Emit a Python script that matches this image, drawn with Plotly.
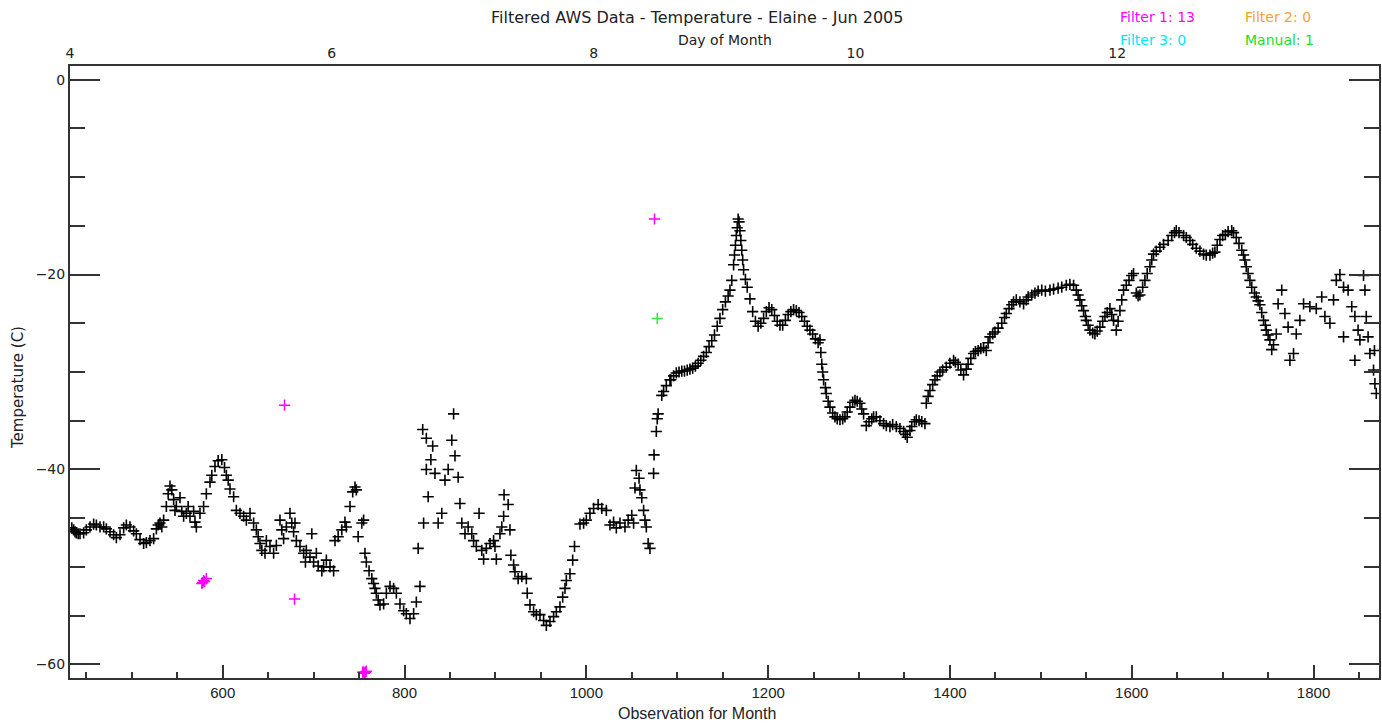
import plotly.graph_objects as go

# Observation index (10-min obs in month) and temperature (C)
obs_a = [434,436,437.5,439,441,443,447,450,454,458,461,465,469,472,476,480,483,487,491,494,498,502,505,509,513,516,520,524,527,529,531,533,535,538,540,542,544,546,547.5,549,553,555,557,560,562,564,568,569.5,571,575,579,582,586,588,591.5,595,599,602,604,606,608,612,615,619,623,626,630,634,637,639,641,643,646.5,648,652,656,659,663,665,667,670,674,676,678,679.5,681,685,689,691,692,696,698,700,703,705,709,711,714,718,722,723.5,727,731,734.5,736,740,743,745.5,747,749,753,755,756.5,758,761,764,766,767.5,769,771,773,777,780,784,788,791,795,799,802,806,810,813,815,817,821,820,824,824,826,829,831,833.5,837,841,844.5,848,852,854,855.5,859]
temp_a = [-46.0,-46.2,-46.4,-46.5,-46.6,-46.6,-46.5,-46.2,-45.9,-45.6,-45.7,-45.9,-45.9,-46.1,-46.4,-46.7,-47.0,-46.7,-46.0,-45.7,-45.9,-46.3,-46.6,-47.2,-47.6,-47.5,-47.3,-47.1,-46.1,-45.7,-45.5,-45.9,-45.2,-43.8,-42.5,-41.7,-42.1,-43.1,-44.2,-43.8,-42.9,-44.3,-44.8,-44.5,-43.8,-44.8,-44.3,-45.4,-45.9,-44.5,-43.8,-42.5,-41.3,-40.6,-39.7,-39.1,-39.0,-39.8,-40.6,-41.1,-42.0,-42.8,-44.2,-44.5,-44.8,-45.2,-44.5,-45.5,-46.2,-46.9,-47.6,-48.3,-48.6,-47.3,-47.9,-48.6,-47.8,-45.2,-46.2,-47.1,-45.9,-44.5,-45.5,-46.4,-45.5,-47.3,-47.9,-48.6,-49.5,-48.3,-49.0,-46.6,-49.5,-48.6,-49.9,-50.4,-50.0,-49.3,-50.0,-50.4,-47.3,-46.9,-46.2,-45.4,-45.9,-43.8,-42.3,-41.8,-42.1,-46.9,-45.5,-45.2,-48.6,-49.5,-50.4,-51.2,-51.7,-52.2,-52.7,-53.4,-53.9,-53.8,-52.7,-52.0,-52.2,-52.7,-53.8,-54.5,-54.8,-55.3,-54.8,-53.6,-48.1,-52.0,-45.5,-35.9,-36.8,-40.0,-42.8,-39.0,-37.6,-40.4,-45.5,-44.5,-41.1,-40.0,-37.0,-34.3,-38.6,-40.8]

obs_b = [861,863,866.5,870,874,876,879,882,885,887,890,894,898,899.5,901,905,907,909,909.5,914,916,917,920,921.5,925,929,934,935,938,942,945,949,953,956,960,964,967,971,974,976.5,978,982,985,987,993,997,1000,1004,1008,1013,1017,1022,1026,1030,1033,1037,1042.5,1046,1050,1052,1053.5,1055,1058,1059,1061,1063,1064.5,1066,1068,1070,1074,1074.5,1077,1078,1079,1083,1085,1088,1092]
temp_b = [-43.5,-45.5,-46.6,-45.9,-46.6,-47.3,-47.9,-44.5,-48.3,-49.2,-48.1,-47.6,-47.3,-47.9,-49.2,-46.6,-45.9,-44.8,-42.6,-43.6,-46.2,-48.8,-49.8,-50.5,-51.2,-51.0,-51.2,-52.7,-53.9,-54.6,-54.9,-54.9,-55.5,-56.0,-55.6,-55.1,-54.6,-54.1,-53.1,-52.2,-51.4,-50.7,-49.3,-47.9,-45.6,-45.5,-45.2,-44.5,-44.0,-43.6,-44.0,-44.2,-45.7,-45.4,-46.0,-45.5,-45.9,-45.2,-44.7,-45.5,-41.9,-40.1,-40.9,-42.1,-42.9,-44.2,-45.2,-45.9,-47.6,-48.1,-40.4,-38.5,-36.1,-34.8,-34.3,-32.4,-32.0,-31.4,-30.8]

obs_c = [1093,1096,1099,1102,1105,1108,1111,1114,1117,1120,1123,1126,1129,1132,1135,1138,1141,1144,1147,1150,1153,1156,1158,1160,1162,1163,1164,1165,1166,1167,1168,1169,1170,1171,1172,1173,1175,1177,1180,1183,1186,1189,1192,1195,1198,1201,1204,1207,1210,1213,1216,1219,1222,1225,1228,1231,1234,1237,1240,1243,1246,1249,1252,1255]
temp_c = [-30.8,-30.4,-30.1,-30.0,-29.9,-29.9,-29.8,-29.7,-29.6,-29.4,-29.1,-28.8,-28.4,-28.0,-27.4,-26.8,-26.2,-25.3,-24.5,-23.6,-22.8,-22.2,-21.6,-20.6,-19.0,-18.0,-17.0,-16.0,-15.2,-14.3,-14.6,-15.5,-16.5,-17.5,-18.5,-19.5,-20.5,-21.3,-22.5,-23.8,-24.8,-25.3,-25.0,-24.5,-23.8,-23.4,-23.6,-24.2,-24.8,-25.2,-25.2,-24.7,-24.1,-23.8,-23.6,-23.7,-23.9,-24.3,-24.8,-25.3,-25.7,-26.1,-26.6,-27.0]

obs_d = [1257,1258,1259,1260,1261,1263,1264,1266,1268,1271,1273.5,1276,1279,1282,1284.5,1287,1290,1293,1295.5,1298,1301,1303,1305,1308,1311,1314,1316,1319,1323,1327,1330,1334,1337,1341,1345,1349,1351,1353,1356,1358,1361,1363,1366,1369,1372.5,1374,1376,1378,1381,1383.5,1386,1389,1392,1396,1400,1404,1406,1409,1412,1415,1418,1420,1423,1426,1428,1431,1434,1437,1440,1442,1444,1447,1449.5,1453,1457,1460,1462,1465,1468,1470,1473,1477,1481,1484,1486,1490,1493.5,1497,1501,1505,1510,1514,1519,1523,1528,1532,1536,1539,1541,1543,1545,1547,1549,1550,1552,1554,1557,1559.5,1562,1565,1568,1570.5,1573,1576,1578,1580,1583,1585,1587,1589,1591,1594,1597,1600,1602,1605,1607,1609,1612,1614.5,1617,1620,1622,1624,1627,1631,1635,1640,1644,1647,1649,1652,1657,1660,1664,1667,1671,1675,1679,1682,1686,1689,1691.5,1694,1697,1700]
temp_d = [-26.7,-28.0,-29.2,-30.0,-30.8,-31.6,-32.2,-33.0,-33.6,-34.2,-34.6,-34.8,-34.9,-34.8,-34.6,-34.1,-33.6,-33.1,-32.9,-33.0,-33.2,-33.8,-34.3,-35.5,-35.1,-34.8,-34.6,-34.6,-35.0,-35.3,-35.5,-35.6,-35.4,-35.6,-35.8,-36.1,-36.4,-36.7,-36.0,-35.6,-35.1,-34.9,-35.0,-35.1,-35.3,-33.2,-32.5,-31.9,-31.3,-30.8,-30.4,-30.0,-29.8,-29.5,-29.1,-28.8,-29.0,-29.2,-29.8,-30.3,-29.7,-29.2,-28.6,-28.1,-27.9,-27.8,-27.6,-27.5,-27.8,-27.0,-26.4,-26.1,-25.9,-25.5,-25.0,-24.4,-24.0,-23.5,-23.1,-22.8,-22.6,-22.8,-23.0,-22.6,-22.3,-22.1,-21.9,-21.7,-21.6,-21.7,-21.6,-21.5,-21.4,-21.3,-21.1,-21.0,-21.1,-21.6,-22.1,-22.6,-23.2,-23.7,-24.3,-24.7,-25.2,-25.7,-26.0,-26.1,-25.8,-25.4,-24.8,-24.3,-23.9,-23.5,-24.1,-24.7,-25.7,-24.8,-23.7,-22.6,-21.6,-21.1,-20.6,-20.1,-19.9,-21.9,-22.2,-22.1,-21.3,-20.6,-19.9,-19.2,-18.5,-17.9,-17.6,-17.2,-16.9,-16.5,-16.0,-15.7,-15.5,-15.7,-16.0,-16.2,-16.5,-16.9,-17.3,-17.6,-17.9,-18.0,-18.0,-17.8,-17.7,-17.0,-16.4,-16.0]

obs_e = [1703,1706,1710,1712,1715,1718,1721,1723,1724.5,1726,1728,1730,1732,1735,1737,1739,1741,1743,1745,1747,1748,1750,1752,1754,1756,1759,1761,1765,1768.5,1772,1774,1778,1781,1785,1789,1796,1803,1809,1812.5,1818,1822,1825,1829,1833,1833,1838,1842,1845.5,1845.5,1849,1851,1855,1856.5,1858,1860,1862,1866,1867,1867.5,1869]
temp_e = [-15.9,-15.6,-15.5,-15.7,-16.2,-16.8,-17.5,-18.0,-18.5,-19.2,-19.9,-20.6,-21.3,-21.9,-22.3,-22.7,-23.1,-23.9,-24.7,-25.2,-25.7,-26.2,-26.7,-27.7,-27.2,-26.1,-23.0,-21.6,-24.0,-25.4,-28.8,-28.1,-26.1,-24.7,-23.0,-23.3,-23.5,-22.3,-24.3,-25.0,-22.6,-20.6,-20.0,-21.3,-26.4,-21.6,-23.3,-24.3,-28.8,-25.7,-26.7,-20.1,-21.6,-24.3,-26.4,-28.1,-29.8,-27.8,-31.2,-32.2]

filt1_obs = [577, 578, 579, 580, 582, 668, 679, 754, 755, 756, 757, 758, 1075]
filt1_temp = [-51.7, -51.6, -51.4, -51.5, -51.2, -33.4, -53.3, -60.8, -60.8, -60.9, -60.8, -60.7, -14.3]
manual_obs = [1078]
manual_temp = [-24.5]

x_range = [432, 1872]
y_range = [-61.4, 1.4]
x_ticks = [600, 800, 1000, 1200, 1400, 1600, 1800]
y_ticks = [0, -20, -40, -60]
day_ticks = [4, 6, 8, 10, 12, 14]
obs_per_day = 144

obs_all = obs_a + obs_b + obs_c + obs_d + obs_e
temp_all = temp_a + temp_b + temp_c + temp_d + temp_e

W, H = 1382, 725
# plot area in window pixels: left 70, right 1379, top 66, bottom 678
ML, MT, MR, MB = 70, 66, 3, 47
PW, PH = W - ML - MR, H - MT - MB
HFONT = "DejaVu Sans"
AFONT = "Liberation Sans"
INK = "#222"


def px_x(px):
    return (px - ML) / PW


def px_y(py):
    return (H - MB - py) / PH


fig = go.Figure()
mk = dict(symbol="cross-thin", size=8)
fig.add_trace(go.Scatter(x=obs_all, y=temp_all, mode="markers",
                         marker=dict(**mk, line=dict(width=1.6, color="black")),
                         showlegend=False))
fig.add_trace(go.Scatter(x=filt1_obs, y=filt1_temp, mode="markers",
                         marker=dict(**mk, line=dict(width=1.5, color="#ff00ff")),
                         showlegend=False))
fig.add_trace(go.Scatter(x=manual_obs, y=manual_temp, mode="markers",
                         marker=dict(**mk, line=dict(width=1.5, color="#33ee33")),
                         showlegend=False))
day_range = [1 + v / obs_per_day for v in x_range]
fig.add_trace(go.Scatter(x=day_range, y=[None, None], xaxis="x2", mode="markers",
                         showlegend=False, hoverinfo="skip"))

axis_common = dict(showline=True, linewidth=2, linecolor="#333", showgrid=False,
                   zeroline=False, automargin=False, tickcolor="#333",
                   tickwidth=1.5)
fig.update_layout(
    width=W, height=H,
    margin=dict(l=ML, r=MR, t=MT, b=MB, autoexpand=False),
    paper_bgcolor="white", plot_bgcolor="white",
    font=dict(family=HFONT, size=12, color=INK),
    xaxis=dict(range=x_range, tickvals=x_ticks, ticks="inside", ticklen=13,
               minor=dict(dtick=50, tick0=0, ticks="inside", ticklen=6,
                          tickwidth=1.5, tickcolor="#333"),
               tickfont=dict(family=AFONT, size=15, color=INK), **axis_common),
    xaxis2=dict(range=day_range, overlaying="x", side="top", tickvals=day_ticks,
                ticks="", tickfont=dict(family=HFONT, size=14, color=INK),
                **axis_common),
    yaxis=dict(range=y_range, tickvals=y_ticks, ticks="inside", ticklen=30,
               mirror="ticks",
               minor=dict(dtick=5, tick0=0, ticks="inside", ticklen=15,
                          tickwidth=1.5, tickcolor="#333"),
               tickfont=dict(family=HFONT, size=14, color=INK), **axis_common),
)

texts = [
    ("Filtered AWS Data - Temperature - Elaine - Jun 2005", 697, 17, "center", 0, 16, HFONT, INK),
    ("Day of Month", 725, 40, "center", 0, 14, HFONT, INK),
    ("Observation for Month", 697, 713, "center", 0, 16, AFONT, INK),
    ("Temperature (C)", 18, 388, "center", -90, 15, HFONT, INK),
    ("Filter 1: 13", 1118, 17, "left", 0, 14, HFONT, "#ff00ff"),
    ("Filter 2: 0", 1243, 17, "left", 0, 14, HFONT, "#f5a030"),
    ("Filter 3: 0", 1118, 40, "left", 0, 14, HFONT, "#00e5ff"),
    ("Manual: 1", 1243, 40, "left", 0, 14, HFONT, "#22dd22"),
]
for txt, px, py, anchor, ang, size, fam, col in texts:
    fig.add_annotation(text=txt, xref="paper", yref="paper",
                       x=px_x(px), y=px_y(py), xanchor=anchor, yanchor="middle",
                       textangle=ang, showarrow=False,
                       font=dict(size=size, color=col, family=fam))

# remove the default 8px page margin so the figure sits at the window origin
fig.write_html("out.html", config={"displayModeBar": False},
               post_script="document.body.style.margin='0px';"
                           "document.documentElement.style.overflow='hidden';")
